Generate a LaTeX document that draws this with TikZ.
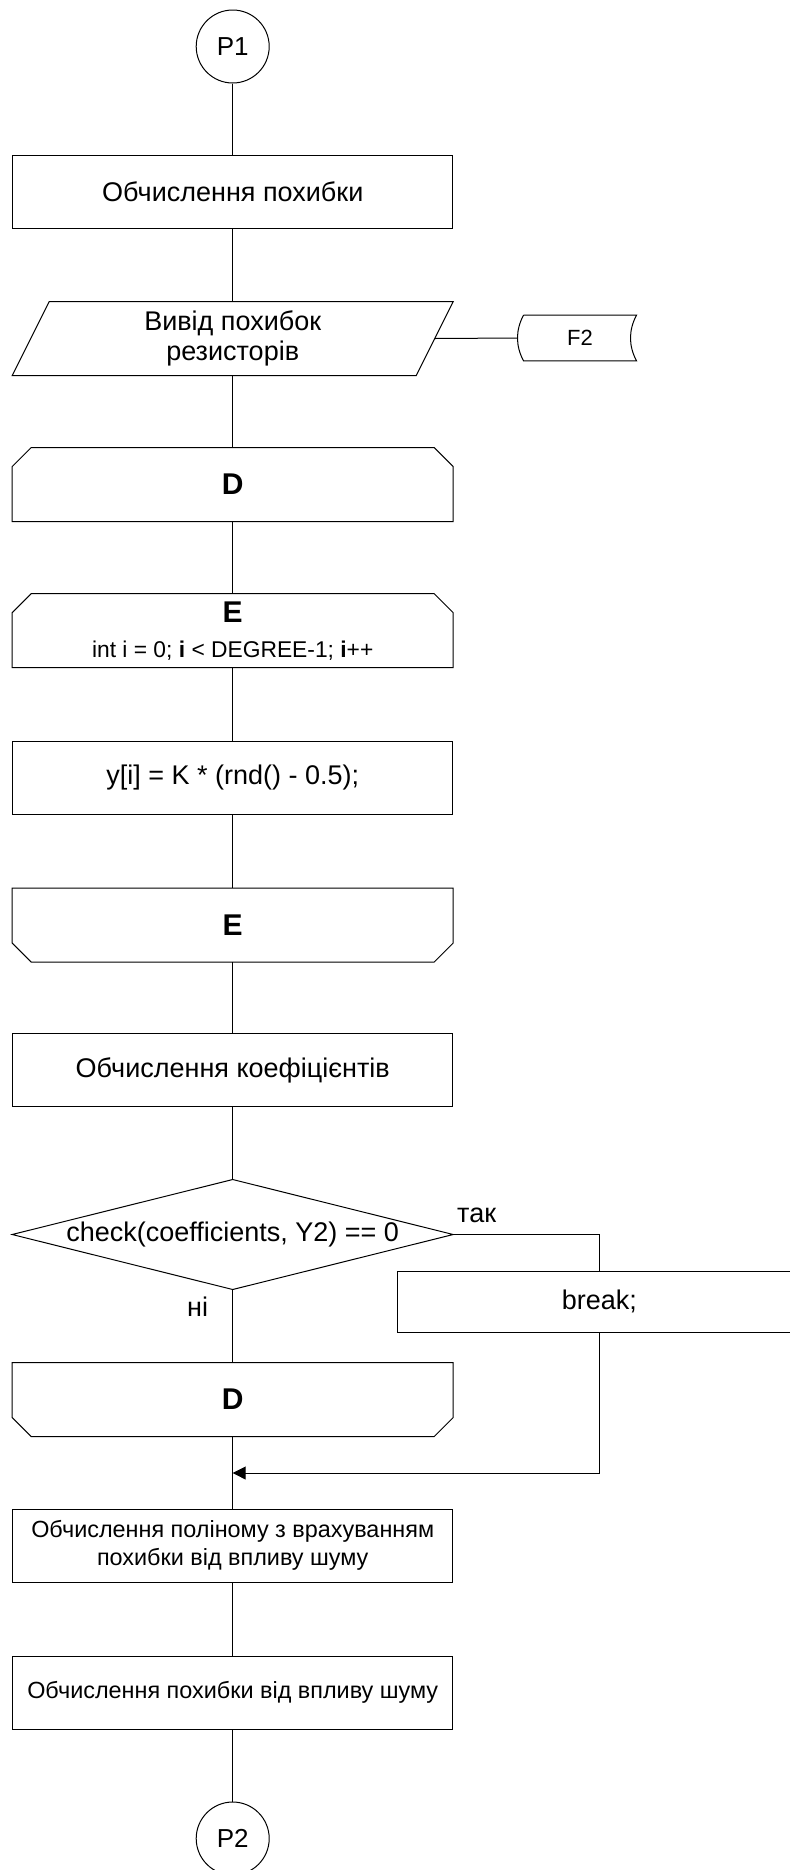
\documentclass[tikz,border=0pt]{standalone}
\usepackage{fontspec}
\setmainfont{Liberation Sans}[Ligatures=NoCommon]
\usetikzlibrary{arrows.meta}

\begin{document}
\begin{tikzpicture}[x=0.5pt, y=-0.5pt, line width=0.5pt] % блок-схема
\tikzstyle{block} = [rectangle, draw, minimum width=220pt, minimum height=36.5pt, inner sep=2pt, align=center, font=\fontsize{13.5}{15}\selectfont] % блок процесу
\tikzstyle{shell} = [block, draw=none] % контур малюється окремо
\tikzstyle{conn} = [circle, draw, minimum size=36.5pt, inner sep=0pt, font=\fontsize{13}{15}\selectfont] % з'єднувач
\tikzstyle{small} = [font=\fontsize{11.7}{14}\selectfont] % дрібніший шрифт
\tikzstyle{lbl} = [anchor=base west, inner sep=0pt, font=\fontsize{13.5}{15}\selectfont] % підписи гілок

\useasboundingbox (0,0) rectangle (790,1870);

\node[conn] (p1) at (232.7,46.5) {P1};
\node[block] (calc1) at (232.7,191.5) {Обчислення похибки};
\node[shell] (para) at (232.7,338.5) {Вивід похибок\\резисторів};
\node[shell, minimum width=56pt, minimum height=22.3pt, font=\fontsize{11}{13}\selectfont] (f2) at (580,338) {F2};
\node[shell, font=\fontsize{15}{18}\selectfont\bfseries] (d1) at (232.7,484.5) {D};
\node[shell] (e1) at (232.7,630.7) {{\fontsize{15}{18}\selectfont\bfseries E}\\[2.5pt]{\fontsize{11.4}{14}\selectfont int i = 0; \textbf{i} < DEGREE-1; \textbf{i}++}};
\node[block] (ybox) at (232.7,777.5) {y[i] = K * (rnd() - 0.5);};
\node[shell, font=\fontsize{15}{18}\selectfont\bfseries] (e2) at (232.7,925) {E};
\node[block] (coef) at (232.7,1070) {Обчислення коефіцієнтів};
\node[shell, minimum height=54.5pt] (chk) at (232.7,1234.5) {check(coefficients, Y2) == 0};
\node[block, minimum width=201.5pt, minimum height=30.5pt] (brk) at (599.3,1301.5) {break;};
\node[shell, font=\fontsize{15}{18}\selectfont\bfseries] (d2) at (232.7,1399.5) {D};
\node[block, small] (poly) at (232.7,1545.5) {Обчислення поліному з врахуванням\\похибки від впливу шуму};
\node[block, small] (noise) at (232.7,1692.5) {Обчислення похибки від впливу шуму};
\node[conn] (p2) at (232.7,1838.5) {P2};

% контури фігур
\draw ([xshift=18.5pt]para.north west) -- (para.north east) -- ([xshift=-18.5pt]para.south east) -- (para.south west) -- cycle;
\draw (f2.north west) -- (f2.north east) .. controls +(-8,15) and +(-8,-15) .. (f2.south east) -- (f2.south west) .. controls +(-8,-15) and +(-8,15) .. (f2.north west);
\foreach \n in {d1,e1}
  \draw ([yshift=-9.5pt]\n.north west) -- ([xshift=9.5pt]\n.north west) -- ([xshift=-9.5pt]\n.north east) -- ([yshift=-9.5pt]\n.north east) -- (\n.south east) -- (\n.south west) -- cycle;
\foreach \n in {e2,d2}
  \draw ([yshift=9.5pt]\n.south west) -- ([xshift=9.5pt]\n.south west) -- ([xshift=-9.5pt]\n.south east) -- ([yshift=9.5pt]\n.south east) -- (\n.north east) -- (\n.north west) -- cycle;
\draw (chk.north) -- (chk.east) -- (chk.south) -- (chk.west) -- cycle;

% з'єднання
\draw (p1) -- (calc1) -- (para) -- (d1) -- (e1) -- (ybox) -- (e2) -- (coef) -- (chk) -- (d2) -- (poly) -- (noise) -- (p2);
\coordinate (pr) at ([xshift=-9.25pt]para.east);
\draw (pr) -- ([xshift=-3pt]f2.west);
\draw (chk.east) -| (brk.north);
\node[lbl] (yes) at (456.7,1222.7) {так};
\node[lbl] (no) at (186.7,1316.7) {ні};
\coordinate (mrg) at (232.7,1473);
\draw[-{Triangle[length=6.5pt,width=6.5pt]}] (brk.south) |- (mrg);
\end{tikzpicture}
\end{document}
